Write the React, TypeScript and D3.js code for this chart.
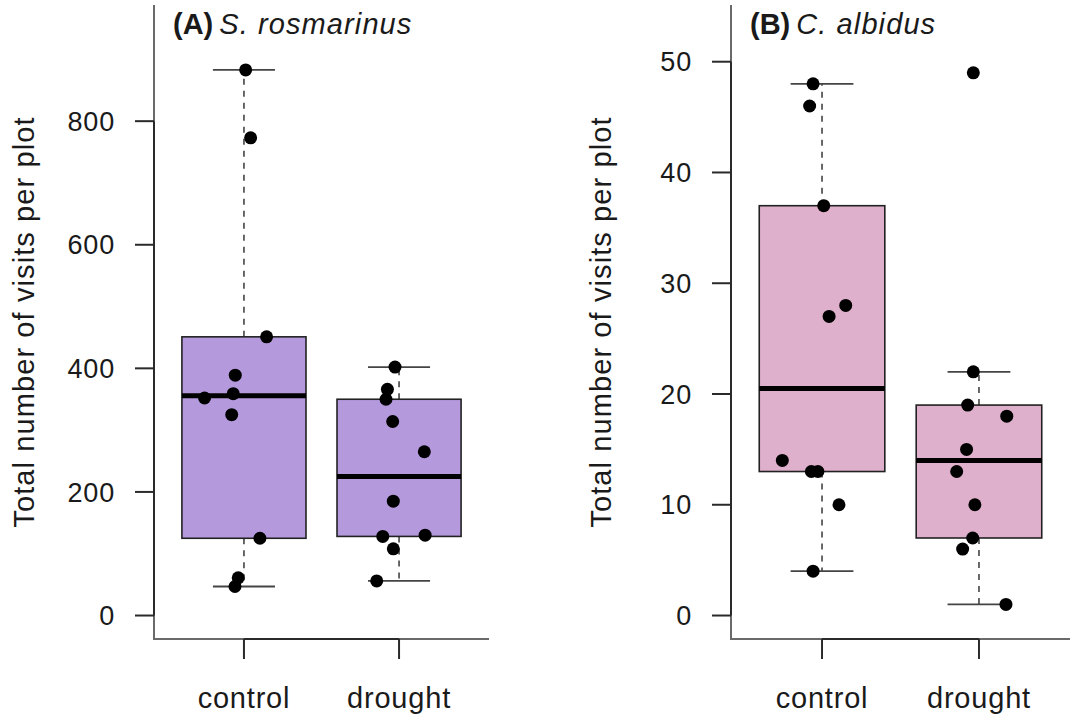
import * as d3 from 'd3';
import React from 'react';

const WIDTH = 1073;
const HEIGHT = 721;
const FONT = '"Liberation Sans", Arial, Helvetica, sans-serif';

const groups = ['control', 'drought'];

// panel A: S. rosmarinus
const rosControl = [883, 773, 451, 389, 352, 359, 325, 125, 61, 47];
const rosControlJitter = [0.011, 0.043, 0.146, -0.056, -0.254, -0.069, -0.079, 0.103, -0.037, -0.058];
const rosDrought = [402, 366, 350, 314, 265, 185, 128, 130, 108, 56];
const rosDroughtJitter = [-0.026, -0.075, -0.084, -0.041, 0.163, -0.037, -0.105, 0.168, -0.037, -0.144];
const rosTicks = [0, 200, 400, 600, 800];

// panel B: C. albidus
const albControl = [48, 46, 37, 27, 28, 14, 13, 13, 10, 4];
const albControlJitter = [-0.057, -0.079, 0.011, 0.045, 0.151, -0.253, -0.068, -0.026, 0.108, -0.057];
const albDrought = [49, 22, 19, 18, 15, 13, 10, 7, 6, 1];
const albDroughtJitter = [-0.036, -0.036, -0.072, 0.177, -0.079, -0.142, -0.026, -0.04, -0.104, 0.172];
const albTicks = [0, 10, 20, 30, 40, 50];

// R style fivenum + whiskers at 1.5 * IQR (outliers not drawn separately)
const boxStats = (values: number[]) => {
  const x = [...values].sort((a, b) => a - b);
  const n = x.length;
  const n4 = Math.floor((n + 3) / 2) / 2;
  const idx = [1, n4, (n + 1) / 2, n + 1 - n4, n];
  const f = idx.map(d => 0.5 * (x[Math.floor(d) - 1] + x[Math.ceil(d) - 1]));
  const iqr = f[3] - f[1];
  const lo = x.filter(v => v >= f[1] - 1.5 * iqr)[0];
  const hi = x.filter(v => v <= f[3] + 1.5 * iqr).slice(-1)[0];
  return { lo, q1: f[1], med: f[2], q3: f[3], hi };
};

interface IPanel {
  left: number;
  right: number;
  ymax: number;
  ticks: number[];
  fill: string;
  tag: string;
  species: string;
  series: { values: number[]; jitter: number[] }[];
}

const TOP = 5;
const BOTTOM = 639;
const textStyle = { fontFamily: FONT, fill: '#1a1a1a', letterSpacing: '1.1px' };

const Panel: React.FC<IPanel> = ({ left, right, ymax, ticks, fill, tag, species, series }) => {
  const pad = ymax * 0.04;
  const y = d3.scaleLinear().domain([-pad, ymax + pad]).range([BOTTOM, TOP]);
  const x = d3.scaleLinear().domain([0.42, 2.58]).range([left, right]);
  const unit = x(1) - x(0);
  const boxHalf = unit * 0.4;
  const capHalf = unit * 0.2;

  return (
    <g>
      {/* box type "l" */}
      <path d={`M${left},${TOP}V${BOTTOM}H${right}`} fill="none" stroke="#6a6a6a" strokeWidth={2} />
      {/* y axis */}
      <line x1={left} x2={left} y1={y(ticks[0])} y2={y(ticks[ticks.length - 1])} stroke="#2a2a2a" strokeWidth={2} />
      {ticks.map(t => (
        <g key={t}>
          <line x1={left - 19} x2={left} y1={y(t)} y2={y(t)} stroke="#2a2a2a" strokeWidth={2} />
          <text x={left - 39} y={y(t)} dy="0.36em" textAnchor="end" fontSize={27} style={{ ...textStyle, letterSpacing: '0.8px' }}>
            {t}
          </text>
        </g>
      ))}
      {/* x axis */}
      <line x1={x(1)} x2={x(2)} y1={BOTTOM} y2={BOTTOM} stroke="#2a2a2a" strokeWidth={2} />
      {groups.map((g, i) => (
        <g key={g}>
          <line x1={x(i + 1)} x2={x(i + 1)} y1={BOTTOM} y2={BOTTOM + 20} stroke="#2a2a2a" strokeWidth={2} />
          <text x={x(i + 1)} y={708} textAnchor="middle" fontSize={29} style={{ ...textStyle, letterSpacing: '0.8px' }}>
            {g}
          </text>
        </g>
      ))}
      <text
        transform={`translate(${left - 120},${(TOP + BOTTOM) / 2}) rotate(-90)`}
        textAnchor="middle"
        fontSize={29}
        style={textStyle}
      >
        Total number of visits per plot
      </text>
      <text x={left + 19} y={34} fontSize={29} style={textStyle}>
        <tspan fontWeight="bold" letterSpacing="0px">{tag}</tspan>
        <tspan dx={6} fontStyle="italic">{species}</tspan>
      </text>
      {/* boxes */}
      {series.map((s, i) => {
        const st = boxStats(s.values);
        const cx = x(i + 1);
        return (
          <g key={i}>
            <line x1={cx} x2={cx} y1={y(st.q3)} y2={y(st.hi)} stroke="#444" strokeWidth={1.6} strokeDasharray="6,6" />
            <line x1={cx} x2={cx} y1={y(st.q1)} y2={y(st.lo)} stroke="#444" strokeWidth={1.6} strokeDasharray="6,6" />
            <line x1={cx - capHalf} x2={cx + capHalf} y1={y(st.hi)} y2={y(st.hi)} stroke="#444" strokeWidth={1.8} />
            <line x1={cx - capHalf} x2={cx + capHalf} y1={y(st.lo)} y2={y(st.lo)} stroke="#444" strokeWidth={1.8} />
            <rect
              x={cx - boxHalf}
              y={y(st.q3)}
              width={boxHalf * 2}
              height={y(st.q1) - y(st.q3)}
              fill={fill}
              stroke="#222"
              strokeWidth={1.6}
            />
            <line x1={cx - boxHalf} x2={cx + boxHalf} y1={y(st.med)} y2={y(st.med)} stroke="#000" strokeWidth={5} />
          </g>
        );
      })}
      {/* points */}
      {series.map((s, i) =>
        s.values.map((v, j) => <circle key={`${i}-${j}`} cx={x(i + 1 + s.jitter[j])} cy={y(v)} r={6.5} fill="#000" />),
      )}
    </g>
  );
};

export default function App() {
  return (
    <svg
      width={WIDTH}
      height={HEIGHT}
      viewBox={`0 0 ${WIDTH} ${HEIGHT}`}
      style={{ position: 'absolute', left: 0, top: 0, background: '#fff' }}
    >
      <rect width={WIDTH} height={HEIGHT} fill="#fff" />
      <Panel
        left={154}
        right={489}
        ymax={950}
        ticks={rosTicks}
        fill="#b49add"
        tag="(A)"
        species="S. rosmarinus"
        series={[
          { values: rosControl, jitter: rosControlJitter },
          { values: rosDrought, jitter: rosDroughtJitter },
        ]}
      />
      <Panel
        left={731}
        right={1070}
        ymax={53}
        ticks={albTicks}
        fill="#dfb0cb"
        tag="(B)"
        species="C. albidus"
        series={[
          { values: albControl, jitter: albControlJitter },
          { values: albDrought, jitter: albDroughtJitter },
        ]}
      />
    </svg>
  );
}
